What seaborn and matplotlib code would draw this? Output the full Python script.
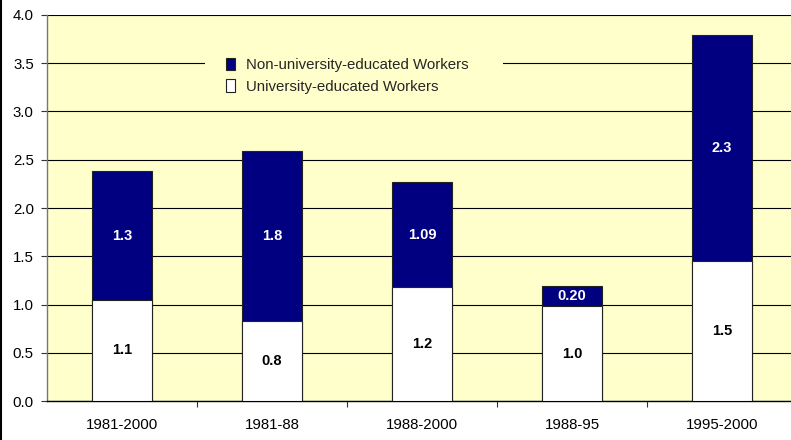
import matplotlib
matplotlib.use("Agg")
import matplotlib.pyplot as plt
import matplotlib.transforms as mtransforms
from matplotlib.patches import Rectangle, Patch
from matplotlib.lines import Line2D
from matplotlib.ticker import FixedLocator
import seaborn as sns
import pandas as pd
import numpy as np

periods = ["1981-2000", "1981-88", "1988-2000", "1988-95", "1995-2000"]
university = [1.05, 0.83, 1.18, 0.98, 1.45]
non_university = [1.33, 1.76, 1.09, 0.21, 2.34]
university_labels = ["1.1", "0.8", "1.2", "1.0", "1.5"]
non_university_labels = ["1.3", "1.8", "1.09", "0.20", "2.3"]
yticks = [0.0, 0.5, 1.0, 1.5, 2.0, 2.5, 3.0, 3.5, 4.0]

BG = "#FFFFCC"
NAVY = "#000080"
FS = 10.8

sns.set_theme(style="white")
plt.rcParams["font.family"] = ["Liberation Sans", "DejaVu Sans"]

df = pd.DataFrame({
    "period": periods,
    "univ": university,
    "nonuniv": non_university,
})
df["total"] = df["univ"] + df["nonuniv"]

fig = plt.figure(figsize=(7.91, 4.40), dpi=100)
fig.patch.set_facecolor("white")
ax = fig.add_axes([47 / 791, 39 / 440, 750 / 791, 386 / 440])
ax.set_facecolor(BG)

sns.barplot(data=df, x="period", y="total", color=NAVY, saturation=1,
            width=0.4, edgecolor="#222222", linewidth=0.8, ax=ax, zorder=3)
sns.barplot(data=df, x="period", y="univ", color="white", saturation=1,
            width=0.4, edgecolor="#222222", linewidth=0.8, ax=ax, zorder=4)

for i in range(len(periods)):
    u = university[i]
    n = non_university[i]
    ax.text(i, u / 2, university_labels[i], ha="center", va="center",
            fontsize=FS - 0.3, fontweight="bold", color="black", zorder=6)
    ax.text(i, u + n / 2, non_university_labels[i], ha="center", va="center",
            fontsize=FS - 0.3, fontweight="bold", color="white", zorder=6)

ax.set_xlim(-0.5, len(periods) - 0.5)
ax.set_ylim(0, 4)
ax.set_yticks(yticks)
ax.set_yticklabels([f"{v:.1f}" for v in yticks])
ax.yaxis.grid(True, color="black", linewidth=0.8, zorder=0)
ax.set_axisbelow(True)
ax.set_xlabel("")
ax.set_ylabel("")

ax.tick_params(axis="y", which="major", direction="out", length=4, width=0.8,
               color="#333333", labelsize=FS, labelcolor="black", pad=5.5, left=True)
ax.tick_params(axis="x", which="major", length=0, labelsize=FS,
               labelcolor="black", pad=12)
ax.xaxis.set_minor_locator(FixedLocator(np.arange(0.5, len(periods) - 0.5, 1.0)))
ax.tick_params(axis="x", which="minor", direction="out", length=4, width=0.8,
               color="#333333", bottom=True)

for side in ["top", "right"]:
    ax.spines[side].set_visible(False)
ax.spines["left"].set_color("#777777")
ax.spines["left"].set_linewidth(1.0)
ax.spines["bottom"].set_color("black")
ax.spines["bottom"].set_linewidth(1.0)

# legend background patch hides the gridline behind the legend
blend = mtransforms.blended_transform_factory(ax.transAxes, ax.transData)
ax.add_patch(Rectangle((0.211, 3.15), 0.397, 0.6, transform=blend,
                       facecolor=BG, edgecolor="none", zorder=1))

handles = [Patch(facecolor=NAVY, edgecolor="#222222", linewidth=0.8),
           Patch(facecolor="white", edgecolor="#222222", linewidth=0.8)]
leg = ax.legend(handles, ["Non-university-educated Workers", "University-educated Workers"],
                loc="upper left", bbox_to_anchor=(226 / 791, 1 - 58 / 440),
                bbox_transform=fig.transFigure, frameon=False, fontsize=FS,
                handlelength=0.6, handleheight=0.9, handletextpad=0.75,
                labelspacing=0.45, borderpad=0, borderaxespad=0)
leg.set_zorder(7)

fig.add_artist(Line2D([0.001, 0.001], [0, 1], transform=fig.transFigure,
                      color="black", linewidth=1.5))

fig.savefig("out.png", dpi=100, facecolor="white")
